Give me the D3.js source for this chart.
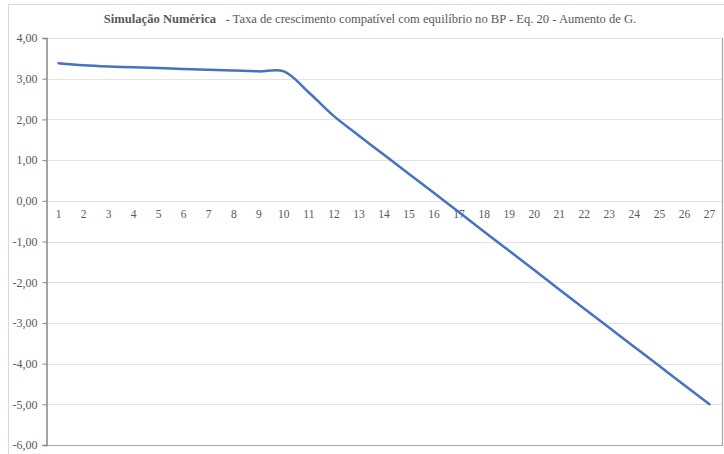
<!DOCTYPE html>
<html>
<head>
<meta charset="utf-8">
<script src="https://cdn.jsdelivr.net/npm/d3@7/dist/d3.min.js"></script>
<style>
  html, body { margin: 0; padding: 0; background: #ffffff; }
  svg { display: block; }
  svg text { font-family: "Liberation Serif", "DejaVu Serif", serif !important; }
</style>
</head>
<body>
<svg id="chart" width="724" height="454"></svg>
<script>
// Simulation periods and the growth rate compatible with BP equilibrium
const periods = d3.range(1, 28);
const growthRate = [
  3.38, 3.33, 3.30, 3.28, 3.26, 3.24, 3.22, 3.20, 3.18, 3.18,
  2.66, 2.08, 1.60, 1.13, 0.66, 0.19, -0.28, -0.76, -1.23, -1.70,
  -2.18, -2.65, -3.12, -3.59, -4.06, -4.53, -5.00
];
const yTicks = [4, 3, 2, 1, 0, -1, -2, -3, -4, -5, -6];
const titleBold = "Simulação Numérica";
const titleRest = "   - Taxa de crescimento compatível com equilíbrio no BP - Eq. 20 - Aumento de G.";

const svg = d3.select("#chart");
const W = 724, H = 454;
const plot = { left: 46, right: 722, top: 38, bottom: 445 };

// outer chart frame
svg.append("rect")
  .attr("x", 8.5).attr("y", 4.5)
  .attr("width", W + 10).attr("height", H + 10)
  .attr("fill", "#ffffff").attr("stroke", "#d9d9d9").attr("stroke-width", 1);

const x = d3.scaleBand().domain(periods).range([plot.left, plot.right]);
const y = d3.scaleLinear().domain([-6, 4]).range([plot.bottom, plot.top]);

// horizontal gridlines
svg.append("g")
  .selectAll("line")
  .data(yTicks)
  .join("line")
  .attr("x1", plot.left).attr("x2", plot.right)
  .attr("y1", d => Math.round(y(d)) + 0.5).attr("y2", d => Math.round(y(d)) + 0.5)
  .attr("stroke", "#e3e3e3").attr("stroke-width", 1);

// plot-area border on right and bottom
svg.append("path")
  .attr("d", `M${plot.right + 0.5},${plot.top}V${plot.bottom + 0.5}H${plot.left}`)
  .attr("fill", "none").attr("stroke", "#a6a6a6").attr("stroke-width", 1.2);

// y axis, decimal comma and plain hyphen for negatives
const yAxis = d3.axisLeft(y)
  .tickValues(yTicks)
  .tickSize(4)
  .tickPadding(5)
  .tickFormat(d => d.toFixed(2).replace(".", ","));
const yg = svg.append("g")
  .attr("transform", `translate(${plot.left + 0.5},0)`)
  .call(yAxis);
yg.select(".domain").attr("stroke", "#868686").attr("stroke-width", 1.5);
yg.selectAll(".tick line").attr("stroke", "#868686");
yg.selectAll(".tick text")
  .attr("fill", "#595959")
  .style("font-size", "12px");

// x axis labels sit just under the zero line
const xAxis = d3.axisBottom(x).tickSize(0).tickPadding(8);
const xg = svg.append("g")
  .attr("transform", `translate(0,${Math.round(y(0)) + 0.5})`)
  .call(xAxis);
xg.select(".domain").remove();
xg.selectAll(".tick text")
  .attr("fill", "#595959")
  .style("font-size", "11.5px");

// growth-rate line, smoothed
const line = d3.line()
  .x((d, i) => x(periods[i]) + x.bandwidth() / 2)
  .y(d => y(d))
  .curve(d3.curveCatmullRom.alpha(0.5));

svg.append("path")
  .datum(growthRate)
  .attr("d", line)
  .attr("fill", "none")
  .attr("stroke", "#4472c4")
  .attr("stroke-width", 2.5)
  .attr("stroke-linecap", "round")
  .attr("stroke-linejoin", "round");

// title
const title = svg.append("text")
  .attr("x", 370).attr("y", 23)
  .attr("text-anchor", "middle")
  .style("font-size", "12.6px")
  .attr("fill", "#595959")
  .attr("xml:space", "preserve");
title.append("tspan").attr("font-weight", "bold").text(titleBold);
title.append("tspan").text(titleRest);
</script>
</body>
</html>
